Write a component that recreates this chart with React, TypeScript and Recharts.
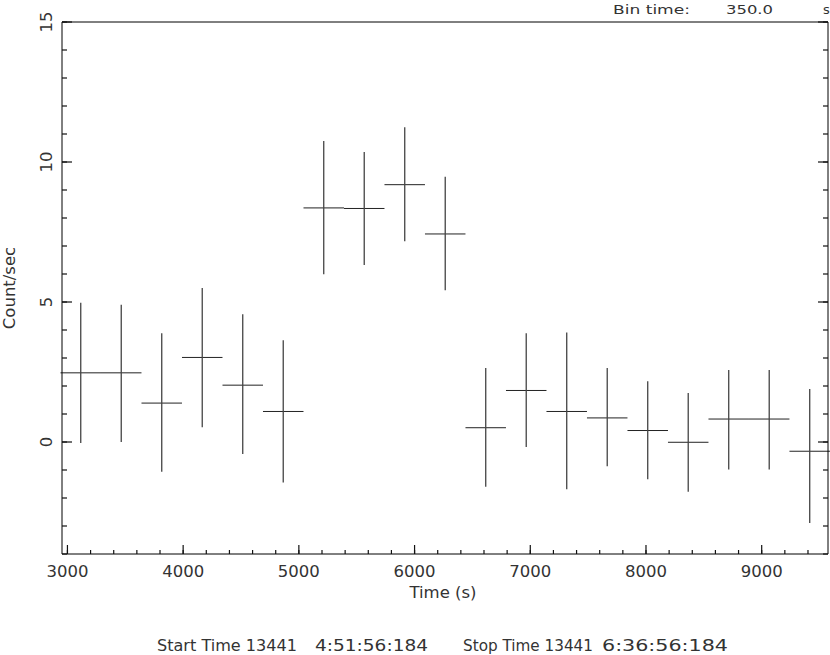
// Light curve: count rate per 350 s bin, drawn as crosses (bin width x 1-sigma error).
import { ComposedChart, Scatter, ErrorBar, XAxis, YAxis } from "recharts";

const binCentres = [3115, 3465, 3815, 4165, 4515, 4865, 5215, 5565, 5915, 6265, 6615, 6965, 7315, 7665, 8015, 8365, 8715, 9065, 9415];
const rates = [2.47, 2.47, 1.39, 3.02, 2.03, 1.09, 8.36, 8.34, 9.19, 7.43, 0.51, 1.84, 1.09, 0.86, 0.41, -0.01, 0.82, 0.82, -0.33];
const errLow = [2.51, 2.47, 2.45, 2.49, 2.46, 2.54, 2.37, 2.02, 2.02, 2.01, 2.11, 2.02, 2.78, 1.73, 1.74, 1.77, 1.8, 1.8, 2.56];
const errHigh = [2.5, 2.43, 2.49, 2.48, 2.53, 2.54, 2.39, 2.02, 2.05, 2.04, 2.13, 2.04, 2.82, 1.78, 1.76, 1.76, 1.75, 1.75, 2.22];
const halfBin = 175;

const xTicks = [3000, 3200, 3400, 3600, 3800, 4000, 4200, 4400, 4600, 4800, 5000, 5200, 5400, 5600, 5800, 6000, 6200, 6400, 6600, 6800, 7000, 7200, 7400, 7600, 7800, 8000, 8200, 8400, 8600, 8800, 9000, 9200, 9400];
const yTicks = [-4, -3, -2, -1, 0, 1, 2, 3, 4, 5, 6, 7, 8, 9, 10, 11, 12, 13, 14, 15];

const data = binCentres.map((t, i) => ({
  t,
  rate: rates[i],
  tErr: halfBin,
  rErr: [errLow[i], errHigh[i]],
}));

const FONT = "DejaVu Sans";
const INK = "#333";
const TICK = "#111";
// built-in tick lines give the short minor marks (inside the frame); majors get a longer line below
const tickLineStyle = { stroke: TICK, strokeWidth: 1.2 };

function BottomTick({ x, y, payload }: any) {
  const major = payload.value % 1000 === 0;
  return (
    <g>
      {major && <path d={`M${x},${y}v-9`} stroke={TICK} strokeWidth={1.2} />}
      {major && (
        <text x={x} y={y + 23} textAnchor="middle" fontFamily={FONT} fontSize={16.5} fill={INK}>
          {payload.value}
        </text>
      )}
    </g>
  );
}

function TopTick({ x, y, payload }: any) {
  const major = payload.value % 1000 === 0;
  return major ? <path d={`M${x},${y}v9`} stroke={TICK} strokeWidth={1.2} /> : <g />;
}

function LeftTick({ x, y, payload }: any) {
  const major = payload.value % 5 === 0;
  return (
    <g>
      {major && <path d={`M${x},${y}h10`} stroke={TICK} strokeWidth={1.2} />}
      {major && (
        <text
          x={0}
          y={0}
          transform={`translate(${x - 10},${y}) rotate(-90)`}
          textAnchor="middle"
          fontFamily={FONT}
          fontSize={16.5}
          fill={INK}
        >
          {payload.value}
        </text>
      )}
    </g>
  );
}

function RightTick({ x, y, payload }: any) {
  const major = payload.value % 5 === 0;
  return major ? <path d={`M${x},${y}h-10`} stroke={TICK} strokeWidth={1.2} /> : <g />;
}

export default function App() {
  return (
    <div style={{ position: "absolute", left: 0, top: 0, width: 830, height: 655, background: "#fff" }}>
      <ComposedChart width={830} height={655} data={data} margin={{ top: 0, right: 0, bottom: 0, left: 0 }}>
        <XAxis
          xAxisId="b"
          dataKey="t"
          type="number"
          domain={[2953, 9573]}
          allowDataOverflow
          ticks={xTicks}
          interval={0}
          height={101}
          tickSize={-4}
          tickMargin={4}
          tick={<BottomTick />}
          tickLine={tickLineStyle}
          axisLine={{ stroke: "#000" }}
        />
        <XAxis
          xAxisId="top"
          orientation="top"
          type="number"
          domain={[2953, 9573]}
          allowDataOverflow
          ticks={xTicks}
          interval={0}
          height={22}
          tickSize={-4}
          tickMargin={4}
          tick={<TopTick />}
          tickLine={tickLineStyle}
          axisLine={{ stroke: "#000" }}
        />
        <YAxis
          yAxisId="l"
          dataKey="rate"
          type="number"
          domain={[-4, 15]}
          allowDataOverflow
          ticks={yTicks}
          interval={0}
          width={62}
          tickSize={-5}
          tickMargin={5}
          tick={<LeftTick />}
          tickLine={tickLineStyle}
          axisLine={{ stroke: "#000" }}
        />
        <YAxis
          yAxisId="r"
          orientation="right"
          type="number"
          domain={[-4, 15]}
          allowDataOverflow
          ticks={yTicks}
          interval={0}
          width={2}
          tickSize={-5}
          tickMargin={5}
          tick={<RightTick />}
          tickLine={tickLineStyle}
          axisLine={{ stroke: "#000" }}
        />
        <Scatter xAxisId="b" yAxisId="l" dataKey="rate" isAnimationActive={false} shape={() => <g />}>
          <ErrorBar dataKey="tErr" direction="x" width={0} stroke="#222" strokeWidth={1} isAnimationActive={false} />
          <ErrorBar dataKey="rErr" direction="y" width={0} stroke="#444" strokeWidth={1.3} isAnimationActive={false} />
        </Scatter>
      </ComposedChart>
      <svg width={830} height={655} style={{ position: "absolute", left: 0, top: 0, pointerEvents: "none" }}>
        <g fontFamily={FONT} fill={INK}>
          <text x={0} y={0} transform="translate(15,288) rotate(-90)" textAnchor="middle" fontSize={16.5}>
            Count/sec
          </text>
          <text x={443} y={598} textAnchor="middle" fontSize={16.5}>
            Time (s)
          </text>
          <text x={613} y={14} fontSize={13} textLength={77} lengthAdjust="spacingAndGlyphs">
            Bin time:
          </text>
          <text x={726} y={14} fontSize={13} textLength={47} lengthAdjust="spacingAndGlyphs">
            350.0
          </text>
          <text x={823} y={14} fontSize={13}>
            s
          </text>
          <text x={157} y={651} fontSize={16.5} textLength={140} lengthAdjust="spacingAndGlyphs">
            Start Time 13441
          </text>
          <text x={315} y={651} fontSize={16.5} textLength={113} lengthAdjust="spacingAndGlyphs">
            4:51:56:184
          </text>
          <text x={463} y={651} fontSize={16.5} textLength={130} lengthAdjust="spacingAndGlyphs">
            Stop Time 13441
          </text>
          <text x={602} y={651} fontSize={16.5} textLength={126} lengthAdjust="spacingAndGlyphs">
            6:36:56:184
          </text>
        </g>
      </svg>
    </div>
  );
}
